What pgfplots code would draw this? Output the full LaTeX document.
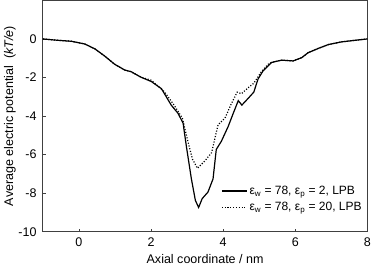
\documentclass[border=0pt]{standalone}
\usepackage{fontspec}
\setmainfont{Liberation Sans}
\usepackage{pgfplots}
\pgfplotsset{compat=1.18}
\begin{document}
\fontsize{12.5}{14.5}\selectfont
\begin{tikzpicture}
\begin{axis}[
  scale only axis,
  width=324pt, height=231pt,
  xmin=-1, xmax=8, ymin=-10, ymax=2,
  xtick={0,2,4,6,8}, ytick={-10,-8,-6,-4,-2,0},
  tick align=inside, major tick length=3pt,
  xtick pos=bottom, ytick pos=left,
  axis line style={line width=0.8pt, black!75},
  tick style={black!75, line width=0.8pt},
  /pgf/number format/assume math mode=true,
  tick label style={font=\fontsize{12.5}{14.5}\selectfont},
  yticklabel style={xshift=-2pt},
  xticklabel style={yshift=-2pt},
  label style={font=\fontsize{12.5}{14.5}\selectfont},
  xlabel={Axial coordinate / nm},
  ylabel={Average electric potential\ \ (\textit{kT/e})},
  xlabel style={yshift=1pt},
  ylabel style={yshift=-6pt},
  legend style={draw=none, fill=none, at={(0.54,0.065)}, anchor=south west, row sep=2pt, font=\fontsize{12}{14}\selectfont},
  legend cell align=left,
  legend image code/.code={\draw[#1] (0pt,0pt) -- (25pt,0pt);},
]
\addplot[black, line width=1.2pt] coordinates {
(-1,0) (-0.58,-0.07) (-0.21,-0.12) (0.16,-0.26) (0.44,-0.51) (0.71,-0.88) (0.99,-1.31) (1.27,-1.61) (1.45,-1.70) (1.64,-1.90) (1.73,-1.99) (2.01,-2.21) (2.29,-2.58) (2.56,-3.43) (2.75,-3.86) (2.89,-4.37) (2.98,-5.56) (3.12,-7.26) (3.23,-8.37) (3.32,-8.74) (3.42,-8.28) (3.58,-7.94) (3.72,-7.26) (3.81,-5.73) (3.95,-5.31) (4.14,-4.54) (4.28,-3.86) (4.42,-3.20) (4.52,-3.43) (4.69,-3.09) (4.85,-2.76) (4.97,-2.07) (5.11,-1.65) (5.34,-1.22) (5.62,-1.10) (5.94,-1.14) (6.18,-0.97) (6.36,-0.71) (6.64,-0.49) (6.92,-0.29) (7.29,-0.15) (7.66,-0.07) (8,0)
};
\addlegendentry{ε\textsubscript{w} = 78, ε\textsubscript{p} = 2, LPB}
\addplot[black, line width=1.2pt, dash pattern=on 1.1pt off 1.7pt] coordinates {
(-1,0) (-0.58,-0.07) (-0.21,-0.12) (0.16,-0.26) (0.44,-0.51) (0.71,-0.88) (0.99,-1.31) (1.27,-1.61) (1.45,-1.70) (1.64,-1.90) (1.73,-1.99) (2.01,-2.14) (2.38,-2.76) (2.64,-3.43) (2.87,-4.11) (3.01,-5.22) (3.15,-6.24) (3.29,-6.71) (3.49,-6.33) (3.68,-5.90) (3.86,-4.45) (4.05,-4.11) (4.23,-3.35) (4.39,-2.76) (4.51,-2.84) (4.68,-2.55) (4.85,-2.30) (5.06,-1.70) (5.25,-1.31) (5.34,-1.22) (5.62,-1.10) (5.94,-1.14) (6.18,-0.97) (6.36,-0.71) (6.64,-0.49) (6.92,-0.29) (7.29,-0.15) (7.66,-0.07) (8,0)
};
\addlegendentry{ε\textsubscript{w} = 78, ε\textsubscript{p} = 20, LPB}
\end{axis}
\end{tikzpicture}
\end{document}
